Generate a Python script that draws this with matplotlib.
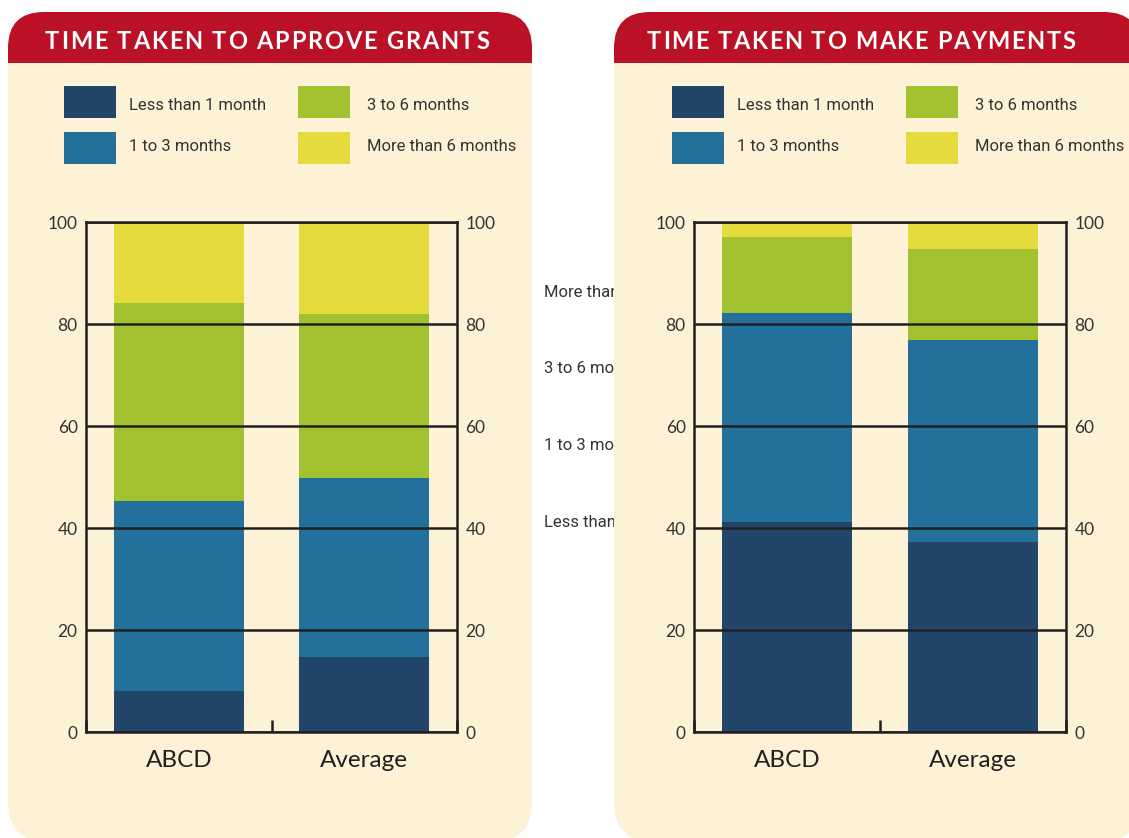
import matplotlib
matplotlib.use("Agg")
import matplotlib.pyplot as plt
from matplotlib.patches import FancyBboxPatch, Rectangle

# share of cases by waiting time (%), per column
categories = ['ABCD', 'Average']
bands = ['Less than 1 month', '1 to 3 months', '3 to 6 months', 'More than 6 months']
colors = ['#21466A', '#24709C', '#A2C131', '#E6DB3C']

approve_lt1 = [8.0, 14.7]
approve_1to3 = [37.3, 35.1]
approve_3to6 = [38.8, 32.2]
approve_gt6 = [15.9, 18.0]

payment_lt1 = [41.2, 37.3]
payment_1to3 = [41.0, 39.6]
payment_3to6 = [14.8, 17.8]
payment_gt6 = [3.0, 5.3]

yticks = [0, 20, 40, 60, 80, 100]

cream = '#FEF2D6'
red = '#BB1126'
ink = '#231F20'
txt = '#333333'
axfont = ['Lato', 'DejaVu Sans']
body = ['Roboto', 'DejaVu Sans']

W, H = 1129, 838
fig = plt.figure(figsize=(W / 100, H / 100), dpi=100)
fig.patch.set_facecolor('white')

# background layer in pixel units
bg = fig.add_axes([0, 0, 1, 1], zorder=0)
bg.set_xlim(0, W)
bg.set_ylim(H, 0)
bg.axis('off')


def panel(x0, x1, z):
    bg.add_patch(FancyBboxPatch((x0, 20), x1 - x0, 822, boxstyle='round,pad=0,rounding_size=40',
                                fc=cream, ec='none', zorder=z))
    bg.add_patch(FancyBboxPatch((x0, 12), x1 - x0, 100, boxstyle='round,pad=0,rounding_size=36',
                                fc=red, ec='none', zorder=z + 0.01))
    bg.add_patch(Rectangle((x0, 63), x1 - x0, 80, fc=cream, ec='none', zorder=z + 0.02))


def spaced(text, x0, x1, y, z):
    r = fig.canvas.get_renderer()
    kw = dict(family=['Lato', 'DejaVu Sans'], weight='bold', size=17, color='white')
    widths = []
    for ch in text:
        if ch == ' ':
            a = bg.text(0, 0, 'II', **kw)
            b = bg.text(0, 0, 'I I', **kw)
            w = b.get_window_extent(r).width - a.get_window_extent(r).width
            a.remove()
            b.remove()
        else:
            t = bg.text(0, 0, ch, **kw)
            w = t.get_window_extent(r).width
            t.remove()
        widths.append(w)
    gap = (x1 - x0 - sum(widths)) / (len(text) - 1)
    x = x0
    for ch, w in zip(text, widths):
        bg.text(x, y, ch, ha='left', va='baseline', zorder=z, **kw)
        x += w + gap


def legend(x_sq, x_txt, z):
    # (square top, text baseline, band index)
    rows = [(86, 110, 0), (132, 151, 1), (86, 110, 2), (132, 151, 3)]
    for i, (y, base, k) in enumerate(rows):
        col = 0 if i < 2 else 1
        bg.add_patch(Rectangle((x_sq[col], y), 52, 32, fc=colors[k], ec='none', zorder=z))
        bg.text(x_txt[col], base, bands[k], family=body, size=12, color=txt,
                ha='left', va='baseline', zorder=z)


# left panel
panel(8, 532, 0.5)
spaced('TIME TAKEN TO APPROVE GRANTS', 45, 489, 49, 3)
legend([64, 298], [129, 367], 2)

# labels sitting in the gap, partly hidden by the right panel
for y, name in zip([292, 368, 445, 522], bands[::-1]):
    bg.text(544, y, name, family=body, size=12, color=txt, ha='left', va='center', zorder=0.8)

# right panel
panel(614, 1140, 1.0)
spaced('TIME TAKEN TO MAKE PAYMENTS', 647, 1075, 49, 3)
legend([672, 906], [737, 975], 2)


def stacked(ax, series):
    bottom = [0, 0]
    for vals, c in zip(series, colors):
        ax.bar(range(len(categories)), vals, width=0.7, bottom=bottom, color=c, zorder=1)
        bottom = [b + v for b, v in zip(bottom, vals)]
    ax.set_xlim(-0.5, 1.5)
    ax.set_ylim(0, 100)
    ax.set_facecolor('none')
    ax.set_axisbelow(False)
    ax.yaxis.grid(True, color=ink, lw=1.8)
    for s in ax.spines.values():
        s.set_color(ink)
        s.set_linewidth(1.8)
    ax.set_yticks(yticks)
    ax.tick_params(axis='y', length=0, labelleft=True, labelright=True, pad=6,
                   labelsize=12.5, labelcolor=txt)
    ax.set_xticks(range(len(categories)))
    ax.set_xticklabels(categories)
    ax.set_xticks([-0.5, 0.5, 1.5], minor=True)
    ax.tick_params(axis='x', which='major', length=0, pad=13, labelsize=17.5, labelcolor=ink)
    ax.tick_params(axis='x', which='minor', direction='in', length=9, width=1.8, color=ink)
    for lab in ax.get_xticklabels():
        lab.set_family(axfont)
    for t in ax.yaxis.get_major_ticks():
        t.label1.set_family(axfont)
        t.label2.set_family(axfont)


ax1 = fig.add_axes([86 / W, 1 - 732 / H, 371 / W, 510 / H], zorder=5)
stacked(ax1, [approve_lt1, approve_1to3, approve_3to6, approve_gt6])

ax2 = fig.add_axes([694 / W, 1 - 732 / H, 372 / W, 510 / H], zorder=5)
stacked(ax2, [payment_lt1, payment_1to3, payment_3to6, payment_gt6])

fig.savefig('out.png', dpi=100, facecolor='white')
